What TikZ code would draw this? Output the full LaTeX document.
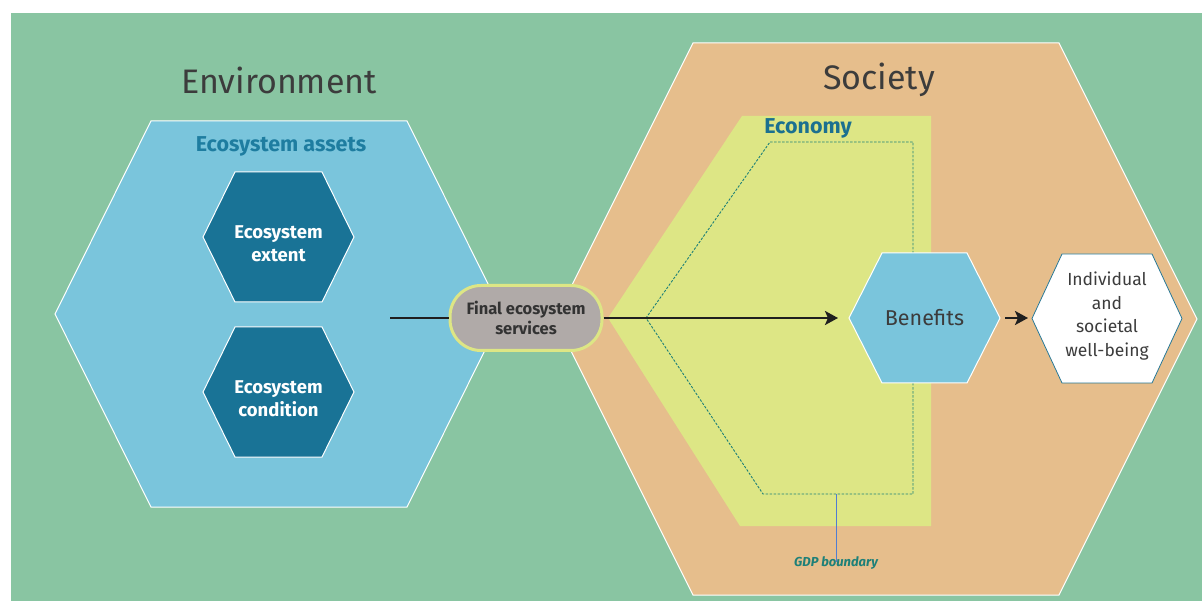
\documentclass[tikz,border=0pt]{standalone}
\usepackage{fontspec}
\setmainfont{Fira Sans}
\usetikzlibrary{arrows.meta}
\definecolor{bggreen}{RGB}{137,197,162}
\definecolor{envblue}{RGB}{122,197,220}
\definecolor{darkhex}{RGB}{25,115,150}
\definecolor{socorange}{RGB}{230,190,140}
\definecolor{econyellow}{RGB}{221,230,133}
\definecolor{fesgrey}{RGB}{176,170,168}
\definecolor{labelblue}{RGB}{30,125,160}
\definecolor{gdpteal}{RGB}{30,128,120}
\definecolor{gdpblue}{RGB}{80,125,210}
\definecolor{textdark}{RGB}{60,60,60}
\definecolor{indborder}{RGB}{40,120,150}
\newcommand{\hexpath}[5]{(#1-#3,#2) -- (#1-#4,#2-#5) -- (#1+#4,#2-#5) -- (#1+#3,#2) -- (#1+#4,#2+#5) -- (#1-#4,#2+#5) -- cycle}
\begin{document}
\begin{tikzpicture}[x=1pt,y=-1pt,
  hexline/.style={draw=white, line width=1pt},
  title/.style={font=\fontsize{34}{40}\selectfont, text=textdark, inner sep=0pt},
  sublabel/.style={font=\fontsize{21.5}{24}\selectfont\bfseries, text=labelblue, inner sep=0pt},
  darklabel/.style={font=\fontsize{18.5}{23}\selectfont\bfseries, text=white, align=center, inner sep=0pt},
  fesbox/.style={fill=fesgrey, draw=econyellow, line width=3pt, rounded corners=31pt,
     minimum width=152pt, minimum height=65pt, align=center, text=black!80,
     font=\fontsize{16.5}{20}\selectfont\bfseries, inner sep=0pt},
  arr/.style={line width=2.6pt, draw=black!88, -{Stealth[length=13pt,width=14pt,inset=3pt]}},
  plainline/.style={line width=2.6pt, draw=black!88},
  gdpdash/.style={draw=gdpteal, line width=0.9pt, dash pattern=on 2.5pt off 1.5pt},
  gdpline/.style={draw=gdpblue, line width=1pt},
]
\useasboundingbox (0,0) rectangle (1202,601);
\fill[white] (0,0) rectangle (1202,601);
\fill[bggreen] (11,13) rectangle (1202,601);

% Environment
\path[fill=envblue, hexline] \hexpath{279}{314}{224}{128}{193};
\node[title] (envtitle) at (279,80) {Environment};
\node[sublabel] (assets) at (281,146) {Ecosystem assets};
\path[fill=darkhex, hexline] \hexpath{278.5}{237}{75.5}{43.5}{65};
\node[darklabel] (extent) at (278.5,244) {Ecosystem\\extent};
\path[fill=darkhex, hexline] \hexpath{278.5}{392}{75.5}{43.5}{65};
\node[darklabel] (condition) at (278.5,399) {Ecosystem\\condition};

% Society
\path[fill=socorange, hexline] \hexpath{876}{319}{321}{183}{276};
\node[title] (soctitle) at (879,80) {Society};
\fill[econyellow] (742,116) -- (931,116) -- (931,526) -- (740,526) -- (608,318) -- cycle;
\node[sublabel, text=labelblue!90!black] (economy) at (808,128) {Economy};
\draw[gdpdash] (770,142) -- (913,142) -- (913,494) -- (763,494) -- (646,318) -- cycle;
\coordinate (gdptop) at (836,494);
\node[font=\fontsize{13}{15}\selectfont\itshape\bfseries, text=gdpteal, inner sep=0pt] (gdp) at (836,563) {GDP boundary};
\draw[gdpline] (gdptop) -- ([yshift=-6pt]gdp.north);

% Benefits
\path[fill=envblue, hexline] \hexpath{924.5}{318}{75.5}{42.5}{65};
\coordinate (benW) at (849,318);
\coordinate (benE) at (1000,318);
\node[font=\fontsize{21.5}{24}\selectfont, text=textdark, inner sep=0pt] (benefits) at (924.5,318) {Benefits};

% Individual and societal well-being
\path[fill=white, draw=indborder, line width=0.8pt] \hexpath{1107}{318.5}{75}{45}{64.5};
\coordinate (indW) at (1032,318);
\node[font=\fontsize{17.5}{23.5}\selectfont, text=textdark, align=center, inner sep=0pt] (wellbeing) at (1107,316) {Individual\\and\\societal\\well-being};

% Final ecosystem services and arrows
\node[fesbox] (fes) at (526,318) {Final ecosystem\\services};
\coordinate (src) at (390,318);
\draw[plainline] (src) -- (fes.west);
\draw[arr, shorten >=11pt] (fes.east) -- (benW);
\draw[arr, shorten <=5pt, shorten >=4pt] (benE) -- (indW);
\end{tikzpicture}
\end{document}
